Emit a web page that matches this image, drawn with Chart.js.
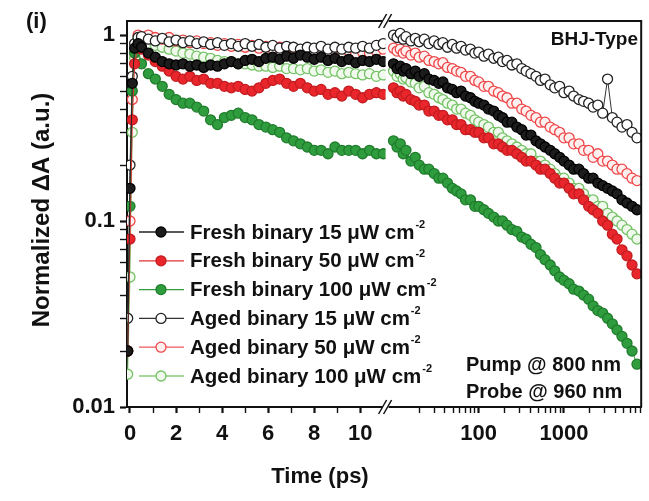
<!DOCTYPE html>
<html>
<head>
<meta charset="utf-8">
<script src="https://cdn.jsdelivr.net/npm/chart.js@4.4.1/dist/chart.umd.min.js"></script>
<style>
  html, body { margin: 0; padding: 0; background: #fff; }
  #wrap { position: relative; width: 649px; height: 501px; }
</style>
</head>
<body>
<div id="wrap"><canvas id="chart" width="649" height="501"></canvas></div>
<script>
// Early times (linear part of the broken axis), ps
const tShort = [-0.1, 0, 0.1, 0.2, 0.35, 0.5, 0.8, 1.1, 1.4, 1.7, 2.0, 2.3, 2.6, 2.9, 3.2, 3.5, 3.8, 4.1, 4.4, 4.7, 5.0, 5.3, 5.6, 5.9, 6.2, 6.5, 6.8, 7.1, 7.4, 7.7, 8.0, 8.3, 8.6, 8.9, 9.2, 9.5, 9.8, 10.1, 10.4, 10.7, 11.0];
// Late times (log part), ps
const tLong = [10, 11, 12, 13, 14, 16, 18, 20, 23, 26, 30, 34, 38, 43, 49, 55, 62, 70, 80, 90, 100, 115, 130, 150, 170, 190, 215, 245, 280, 320, 360, 410, 470, 530, 600, 690, 780, 890, 1000, 1150, 1300, 1500, 1700, 1950, 2200, 2500, 2850, 3250, 3700, 4200, 4800, 5500, 6300, 7200];

const fresh15Short = [0.02, 0.15, 0.55, 0.85, 0.9, 0.86, 0.8, 0.76, 0.72, 0.7, 0.69, 0.7, 0.68, 0.69, 0.67, 0.69, 0.68, 0.7, 0.72, 0.7, 0.73, 0.74, 0.72, 0.75, 0.76, 0.74, 0.77, 0.75, 0.78, 0.76, 0.74, 0.76, 0.73, 0.75, 0.72, 0.74, 0.71, 0.73, 0.72, 0.74, 0.72];
const fresh50Short = [0.02, 0.08, 0.35, 0.7, 0.88, 0.84, 0.78, 0.72, 0.68, 0.64, 0.6, 0.58, 0.6, 0.57, 0.58, 0.55, 0.55, 0.53, 0.52, 0.53, 0.51, 0.5, 0.52, 0.55, 0.57, 0.58, 0.55, 0.53, 0.55, 0.52, 0.5, 0.51, 0.48, 0.49, 0.47, 0.5, 0.48, 0.46, 0.48, 0.49, 0.48];
const fresh100Short = [0.02, 0.12, 0.5, 0.8, 0.85, 0.7, 0.62, 0.58, 0.53, 0.48, 0.45, 0.43, 0.43, 0.41, 0.39, 0.35, 0.33, 0.36, 0.37, 0.38, 0.36, 0.35, 0.33, 0.32, 0.31, 0.3, 0.28, 0.27, 0.26, 0.25, 0.24, 0.24, 0.23, 0.25, 0.24, 0.24, 0.24, 0.23, 0.24, 0.23, 0.23];
const aged15Short = [0.03, 0.2, 0.6, 0.9, 0.97, 0.98, 0.95, 0.93, 0.96, 0.92, 0.94, 0.91, 0.93, 0.9, 0.92, 0.89, 0.91, 0.88, 0.9, 0.87, 0.9, 0.87, 0.89, 0.86, 0.88, 0.85, 0.87, 0.86, 0.84, 0.86, 0.85, 0.87, 0.84, 0.86, 0.84, 0.86, 0.85, 0.87, 0.85, 0.88, 0.9];
const aged50Short = [0.02, 0.1, 0.45, 0.8, 1.0, 0.98, 1.0, 0.97, 0.95, 0.97, 0.93, 0.94, 0.91, 0.93, 0.9, 0.91, 0.88, 0.9, 0.87, 0.89, 0.86, 0.88, 0.85, 0.87, 0.84, 0.86, 0.83, 0.85, 0.82, 0.84, 0.81, 0.83, 0.8, 0.82, 0.8, 0.82, 0.79, 0.81, 0.8, 0.82, 0.84];
const aged100Short = [0.015, 0.05, 0.3, 0.75, 0.97, 0.95, 0.9, 0.88, 0.86, 0.84, 0.82, 0.8, 0.79, 0.77, 0.76, 0.75, 0.73, 0.72, 0.72, 0.7, 0.7, 0.69, 0.68, 0.68, 0.67, 0.68, 0.66, 0.66, 0.65, 0.66, 0.64, 0.65, 0.63, 0.64, 0.62, 0.63, 0.62, 0.61, 0.62, 0.6, 0.61];

const fresh15Long = [0.7, 0.66, 0.68, 0.64, 0.66, 0.62, 0.64, 0.6, 0.62, 0.58, 0.57, 0.55, 0.56, 0.52, 0.51, 0.49, 0.5, 0.47, 0.46, 0.44, 0.43, 0.42, 0.4, 0.39, 0.37, 0.36, 0.34, 0.34, 0.32, 0.31, 0.29, 0.29, 0.27, 0.26, 0.25, 0.24, 0.23, 0.22, 0.21, 0.2, 0.19, 0.19, 0.18, 0.17, 0.17, 0.16, 0.155, 0.15, 0.145, 0.14, 0.13, 0.125, 0.12, 0.115];
const fresh50Long = [0.52, 0.49, 0.5, 0.47, 0.48, 0.45, 0.44, 0.42, 0.42, 0.39, 0.39, 0.37, 0.37, 0.35, 0.35, 0.33, 0.33, 0.31, 0.31, 0.3, 0.3, 0.28, 0.28, 0.26, 0.26, 0.25, 0.24, 0.24, 0.23, 0.22, 0.21, 0.21, 0.2, 0.19, 0.19, 0.18, 0.17, 0.16, 0.16, 0.15, 0.14, 0.14, 0.13, 0.12, 0.115, 0.11, 0.1, 0.095, 0.085, 0.08, 0.07, 0.065, 0.058, 0.052];
const fresh100Long = [0.27, 0.25, 0.26, 0.23, 0.24, 0.21, 0.22, 0.2, 0.19, 0.19, 0.18, 0.17, 0.17, 0.16, 0.15, 0.145, 0.14, 0.13, 0.13, 0.12, 0.12, 0.115, 0.11, 0.105, 0.1, 0.1, 0.095, 0.09, 0.088, 0.082, 0.08, 0.075, 0.072, 0.066, 0.062, 0.058, 0.054, 0.05, 0.048, 0.046, 0.043, 0.042, 0.04, 0.038, 0.035, 0.033, 0.032, 0.03, 0.028, 0.026, 0.024, 0.022, 0.02, 0.017];
const aged15Long = [1.0, 0.97, 1.02, 0.95, 0.98, 0.93, 0.96, 0.92, 0.95, 0.9, 0.93, 0.89, 0.91, 0.86, 0.89, 0.85, 0.87, 0.83, 0.84, 0.8, 0.81, 0.77, 0.79, 0.75, 0.76, 0.72, 0.73, 0.69, 0.7, 0.66, 0.64, 0.62, 0.6, 0.57, 0.58, 0.54, 0.52, 0.53, 0.49, 0.5, 0.47, 0.45, 0.44, 0.43, 0.41, 0.42, 0.38, 0.58, 0.36, 0.34, 0.32, 0.33, 0.3, 0.28];
const aged50Long = [0.85, 0.82, 0.84, 0.8, 0.82, 0.78, 0.8, 0.76, 0.77, 0.73, 0.72, 0.7, 0.71, 0.67, 0.66, 0.64, 0.63, 0.6, 0.6, 0.57, 0.56, 0.53, 0.53, 0.5, 0.49, 0.47, 0.46, 0.43, 0.43, 0.4, 0.39, 0.37, 0.36, 0.34, 0.34, 0.32, 0.31, 0.3, 0.28, 0.28, 0.26, 0.26, 0.24, 0.24, 0.22, 0.23, 0.21, 0.21, 0.2, 0.19, 0.19, 0.18, 0.17, 0.165];
const aged100Long = [0.64, 0.6, 0.62, 0.58, 0.59, 0.56, 0.55, 0.52, 0.53, 0.49, 0.48, 0.46, 0.45, 0.43, 0.42, 0.4, 0.4, 0.38, 0.37, 0.35, 0.34, 0.33, 0.32, 0.3, 0.3, 0.28, 0.27, 0.26, 0.25, 0.24, 0.23, 0.23, 0.21, 0.21, 0.2, 0.19, 0.18, 0.17, 0.17, 0.16, 0.15, 0.15, 0.14, 0.13, 0.13, 0.12, 0.12, 0.11, 0.105, 0.1, 0.095, 0.09, 0.085, 0.08];

const seriesNames = ['Fresh binary 15', 'Fresh binary 50', 'Fresh binary 100', 'Aged binary 15', 'Aged binary 50', 'Aged binary 100'];
const shortSets = [fresh15Short, fresh50Short, fresh100Short, aged15Short, aged50Short, aged100Short];
const longSets = [fresh15Long, fresh50Long, fresh100Long, aged15Long, aged50Long, aged100Long];

// tick labels
const xShortLabels = [0, 2, 4, 6, 8, 10];
const xLongLabels = [100, 1000];
const yLabels = [0.01, 0.1, 1];

const styles = [
    { fill: '#1c1c1c', stroke: '#000000', line: '#222222' },
    { fill: '#e8262b', stroke: '#c41c20', line: '#e03035' },
    { fill: '#2f9d3e', stroke: '#1f7d2c', line: '#2f9d3e' },
    { fill: '#ffffff', stroke: '#222222', line: '#333333' },
    { fill: '#fff0f0', stroke: '#ee4648', line: '#ee5a5c' },
    { fill: '#f0faec', stroke: '#74c265', line: '#86cc78' }
];

const FONT = '"Liberation Sans", Arial, sans-serif';
Chart.defaults.font.family = FONT;
Chart.defaults.font.weight = 'bold';
Chart.defaults.color = '#111';

function makeSet(i, xs, ys, axisId) {
    const s = styles[i];
    return {
        label: seriesNames[i],
        data: xs.map((x, k) => ({ x: x, y: ys[k] })),
        xAxisID: axisId,
        yAxisID: 'y',
        borderColor: s.line,
        borderWidth: 1,
        pointRadius: 5,
        pointBackgroundColor: s.fill,
        pointBorderColor: s.stroke,
        pointBorderWidth: 1.3,
        tension: 0
    };
}

const datasets = [];
for (let i = 0; i < seriesNames.length; i++) {
    datasets.push(makeSet(i, tShort, shortSets[i], 'xl'));
    datasets.push(makeSet(i, tLong, longSets[i], 'xr'));
}

function near(list, v) {
    return list.some(t => Math.abs(t - v) <= t * 1e-6 + 1e-9);
}

// log minor ticks between decades
function logTicks(from, to) {
    const out = [];
    for (let d = from; d < to; d *= 10) {
        for (let k = 1; k <= 9; k++) out.push(d * k);
    }
    out.push(to);
    return out;
}

const axisPlot = {
    L: 127, R: 646, T: 21, B: 407, brk: 388
};

const decor = {
    id: 'decor',
    afterDraw(chart) {
        const ctx = chart.ctx;
        const a = chart.chartArea;
        ctx.save();
        // frame: top and right
        ctx.strokeStyle = '#111';
        ctx.lineWidth = 2;
        ctx.beginPath();
        ctx.moveTo(a.left, a.top);
        ctx.lineTo(a.right, a.top);
        ctx.lineTo(a.right, a.bottom);
        ctx.stroke();

        // axis break marks
        const bx = chart.scales.xl.right;
        [a.top, a.bottom].forEach(yy => {
            ctx.fillStyle = '#fff';
            ctx.fillRect(bx - 3, yy - 2, 6, 4);
            ctx.strokeStyle = '#111';
            ctx.lineWidth = 1.5;
            [-3, 2].forEach(off => {
                ctx.beginPath();
                ctx.moveTo(bx + off - 4, yy + 7);
                ctx.lineTo(bx + off + 4, yy - 7);
                ctx.stroke();
            });
        });

        ctx.fillStyle = '#111';
        // panel label
        ctx.font = 'bold 22px ' + FONT;
        ctx.textAlign = 'left';
        ctx.textBaseline = 'middle';
        ctx.fillText('(i)', 26, 22);

        // y title
        ctx.save();
        ctx.translate(42, 210);
        ctx.rotate(-Math.PI / 2);
        ctx.textAlign = 'center';
        ctx.font = 'bold 24px ' + FONT;
        ctx.fillText('Normalized \u0394A (a.u.)', 0, 0);
        ctx.restore();

        // x title
        ctx.textAlign = 'center';
        ctx.font = 'bold 22px ' + FONT;
        ctx.fillText('Time (ps)', 320, 477);

        // annotations
        ctx.font = 'bold 19px ' + FONT;
        ctx.textAlign = 'right';
        ctx.fillText('BHJ-Type', 638, 40);
        ctx.textAlign = 'left';
        ctx.font = 'bold 20px ' + FONT;
        ctx.fillText('Pump @ 800 nm', 466, 365);
        ctx.fillText('Probe @ 960 nm', 466, 392);

        // legend
        for (let i = 0; i < seriesNames.length; i++) {
            const s = styles[i];
            const y = 232 + i * 28.8;
            ctx.strokeStyle = s.line;
            ctx.lineWidth = 1.3;
            ctx.beginPath();
            ctx.moveTo(139, y);
            ctx.lineTo(184, y);
            ctx.stroke();
            ctx.beginPath();
            ctx.arc(161, y, 5, 0, Math.PI * 2);
            ctx.fillStyle = s.fill;
            ctx.fill();
            ctx.strokeStyle = s.stroke;
            ctx.stroke();

            ctx.fillStyle = '#111';
            ctx.font = 'bold 20.5px ' + FONT;
            ctx.textAlign = 'left';
            ctx.textBaseline = 'middle';
            const main = seriesNames[i] + ' \u03bcW cm';
            ctx.fillText(main, 190, y + 1);
            const w = ctx.measureText(main).width;
            ctx.font = 'bold 11px ' + FONT;
            ctx.fillText('-2', 190 + w + 1, y - 7);
        }
        ctx.restore();
    }
};

const tickFont = { size: 22, weight: 'bold' };

new Chart(document.getElementById('chart'), {
    type: 'line',
    data: { datasets: datasets },
    options: {
        responsive: false,
        animation: false,
        devicePixelRatio: 1,
        layout: { padding: { top: axisPlot.T, right: 649 - axisPlot.R, left: 0, bottom: 0 } },
        plugins: { legend: { display: false }, tooltip: { enabled: false } },
        scales: {
            y: {
                type: 'logarithmic',
                position: 'left',
                min: 0.01,
                max: 1.19,
                afterFit: s => { s.width = axisPlot.L; },
                afterBuildTicks: s => { s.ticks = logTicks(0.01, 1).map(v => ({ value: v })); },
                ticks: {
                    autoSkip: false,
                    padding: 5,
                    font: tickFont,
                    color: '#111',
                    callback: v => near(yLabels, v) ? String(yLabels.find(t => Math.abs(t - v) <= t * 1e-6)) : ''
                },
                grid: {
                    drawOnChartArea: false,
                    tickLength: 7,
                    tickColor: '#111',
                    tickWidth: c => (c.tick && near(yLabels, c.tick.value)) ? 2.2 : 1.4
                },
                border: { color: '#111', width: 2 }
            },
            xl: {
                type: 'linear',
                position: 'bottom',
                stack: 'time',
                stackWeight: axisPlot.brk - axisPlot.L,
                min: -0.13,
                max: 11.1,
                afterFit: s => { s.height = 501 - axisPlot.B; },
                afterBuildTicks: s => { s.ticks = [0, 1, 2, 3, 4, 5, 6, 7, 8, 9, 10].map(v => ({ value: v })); },
                ticks: {
                    autoSkip: false,
                    maxRotation: 0,
                    padding: 8,
                    font: tickFont,
                    color: '#111',
                    callback: v => xShortLabels.includes(v) ? String(v) : ''
                },
                grid: {
                    drawOnChartArea: false,
                    tickLength: 6,
                    tickColor: '#111',
                    tickWidth: c => (c.tick && xShortLabels.includes(c.tick.value)) ? 2.2 : 1.4
                },
                border: { color: '#111', width: 2 }
            },
            xr: {
                type: 'logarithmic',
                position: 'bottom',
                stack: 'time',
                stackWeight: axisPlot.R - axisPlot.brk,
                min: 8.07,
                max: 8070,
                afterFit: s => { s.height = 501 - axisPlot.B; },
                afterBuildTicks: s => {
                    s.ticks = logTicks(10, 1000).concat([2000, 3000, 4000, 5000, 6000, 7000, 8000])
                        .filter(v => v > 15).map(v => ({ value: v }));
                },
                ticks: {
                    autoSkip: false,
                    maxRotation: 0,
                    padding: 8,
                    font: tickFont,
                    color: '#111',
                    callback: v => near(xLongLabels, v) ? String(Math.round(v)) : ''
                },
                grid: {
                    drawOnChartArea: false,
                    tickLength: 6,
                    tickColor: '#111',
                    tickWidth: c => (c.tick && near(xLongLabels, c.tick.value)) ? 2.2 : 1.4
                },
                border: { color: '#111', width: 2 }
            }
        }
    },
    plugins: [decor]
});
</script>
</body>
</html>
